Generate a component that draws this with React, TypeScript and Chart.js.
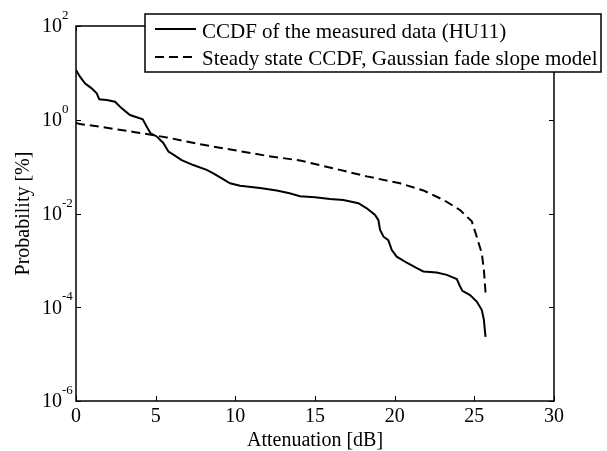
import React, { useEffect, useRef } from "react";
import { Chart, registerables } from "chart.js";

Chart.register(...registerables);

// Measured CCDF (HU11): attenuation [dB] and probability [%]
const attMeasured = [
  0, 0.25, 0.56, 0.98, 1.3, 1.46, 1.93, 2.45, 2.87, 3.39, 3.81, 4.19, 4.44, 4.69, 5.07, 5.48, 5.8, 6.11,
  6.63, 7.36, 8.2, 8.62, 9.15, 9.67, 10.3, 11.55, 12.6, 13.4, 14.06, 15.0, 15.94, 16.78, 17.72, 18.25,
  18.77, 18.98, 19.08, 19.3, 19.6, 19.82, 20.13, 20.76, 21.39, 21.8, 22.64, 23.27, 23.9, 24.07, 24.25,
  24.73, 25.15, 25.47, 25.6, 25.7,
];
const probMeasured = [
  11.5, 8.28, 6.0, 4.68, 3.66, 2.73, 2.63, 2.43, 1.75, 1.26, 1.13, 1.02, 0.71, 0.51, 0.44, 0.32, 0.21, 0.18,
  0.138, 0.108, 0.085, 0.072, 0.056, 0.044, 0.039, 0.035, 0.031, 0.027, 0.0234, 0.0221, 0.0204, 0.0195,
  0.0166, 0.0129, 0.0093, 0.0072, 0.0045, 0.0032, 0.0027, 0.00166, 0.0012, 0.00089, 0.00068, 0.00058,
  0.00055, 0.00049, 0.0004, 0.000295, 0.000224, 0.000182, 0.000132, 0.000087, 0.000054, 0.0000234,
];

// Steady state CCDF, Gaussian fade slope model
const attModel = [
  0, 0.25, 1.5, 3.6, 5.7, 7.78, 9.87, 11.97, 14.06, 16.15, 18.25, 20.34, 21.8, 23.06, 24.1, 24.84, 25.15,
  25.47, 25.6, 25.72,
];
const probModel = [
  0.85, 0.81, 0.71, 0.55, 0.42, 0.3, 0.226, 0.17, 0.135, 0.092, 0.062, 0.044, 0.031, 0.0195, 0.0119,
  0.0068, 0.0032, 0.0014, 0.00063, 0.00017,
];

const xTicks = [0, 5, 10, 15, 20, 25, 30];
const yTickExponents = [2, 0, -2, -4, -6];
const seriesLabels = [
  "CCDF of the measured data (HU11)",
  "Steady state CCDF, Gaussian fade slope model",
];
const xTitle = "Attenuation [dB]";
const yTitle = "Probability [%]";

const FONT = '"Liberation Serif", "Times New Roman", serif';
const DASH = [9, 5];

const decorPlugin = {
  id: "decor",
  beforeDraw(chart: any) {
    const { ctx, width, height } = chart;
    ctx.save();
    ctx.fillStyle = "#fff";
    ctx.fillRect(0, 0, width, height);
    ctx.restore();
  },
  afterDatasetsDraw(chart: any) {
    const { ctx, chartArea: a, scales } = chart;
    const x = scales.x;
    const y = scales.y;
    ctx.save();
    ctx.strokeStyle = "#000";
    ctx.fillStyle = "#000";
    ctx.lineWidth = 1.5;
    ctx.setLineDash([]);
    ctx.strokeRect(a.left, a.top, a.right - a.left, a.bottom - a.top);

    ctx.lineWidth = 1;
    ctx.beginPath();
    xTicks.forEach((v) => {
      const px = Math.round(x.getPixelForValue(v)) + 0.5;
      ctx.moveTo(px, a.bottom);
      ctx.lineTo(px, a.bottom - 5);
      ctx.moveTo(px, a.top);
      ctx.lineTo(px, a.top + 5);
    });
    yTickExponents.forEach((e) => {
      const py = Math.round(y.getPixelForValue(Math.pow(10, e))) + 0.5;
      ctx.moveTo(a.left, py);
      ctx.lineTo(a.left + 5, py);
      ctx.moveTo(a.right, py);
      ctx.lineTo(a.right - 5, py);
    });
    ctx.stroke();

    // x tick labels
    ctx.font = `20px ${FONT}`;
    ctx.textAlign = "center";
    ctx.textBaseline = "alphabetic";
    xTicks.forEach((v) => {
      ctx.fillText(String(v), x.getPixelForValue(v), a.bottom + 21);
    });

    // y tick labels with superscript exponents
    yTickExponents.forEach((e) => {
      const py = y.getPixelForValue(Math.pow(10, e));
      ctx.font = `20px ${FONT}`;
      ctx.textAlign = "right";
      ctx.textBaseline = "middle";
      ctx.fillText("10", a.left - 14, py + 1);
      ctx.font = `13px ${FONT}`;
      ctx.textAlign = "left";
      ctx.textBaseline = "alphabetic";
      ctx.fillText(String(e), a.left - 14, py - 7);
    });

    // axis titles
    ctx.font = `20px ${FONT}`;
    ctx.textAlign = "center";
    ctx.textBaseline = "alphabetic";
    ctx.fillText(xTitle, (a.left + a.right) / 2, a.bottom + 45);
    ctx.save();
    ctx.translate(24, (a.top + a.bottom) / 2);
    ctx.rotate(-Math.PI / 2);
    ctx.textBaseline = "middle";
    ctx.fillText(yTitle, 0, 0);
    ctx.restore();

    // legend
    const lx = 145, ly = 14, lw = 456, lh = 58;
    ctx.fillStyle = "#fff";
    ctx.fillRect(lx, ly, lw, lh);
    ctx.lineWidth = 1.5;
    ctx.strokeRect(lx, ly, lw, lh);
    const rows = [29, 57];
    const dashes = [[], DASH];
    ctx.lineWidth = 2;
    rows.forEach((ry, i) => {
      ctx.setLineDash(dashes[i]);
      ctx.beginPath();
      ctx.moveTo(155, ry);
      ctx.lineTo(196, ry);
      ctx.stroke();
    });
    ctx.setLineDash([]);
    ctx.fillStyle = "#000";
    ctx.font = `21px ${FONT}`;
    ctx.textAlign = "left";
    ctx.textBaseline = "alphabetic";
    ctx.fillText(seriesLabels[0], 202, 38);
    ctx.fillText(seriesLabels[1], 202, 65);
    ctx.restore();
  },
};

export default function App() {
  const canvasRef = useRef<HTMLCanvasElement | null>(null);

  useEffect(() => {
    if (!canvasRef.current) return;
    const chart = new Chart(canvasRef.current, {
      type: "line",
      data: {
        datasets: [
          {
            label: seriesLabels[0],
            data: attMeasured.map((v, i) => ({ x: v, y: probMeasured[i] })),
            borderColor: "#000",
            borderWidth: 2,
            pointRadius: 0,
            tension: 0,
            fill: false,
          },
          {
            label: seriesLabels[1],
            data: attModel.map((v, i) => ({ x: v, y: probModel[i] })),
            borderColor: "#000",
            borderWidth: 2,
            borderDash: DASH,
            pointRadius: 0,
            tension: 0,
            fill: false,
          },
        ],
      },
      options: {
        animation: false,
        responsive: false,
        devicePixelRatio: 1,
        layout: { padding: { left: 76, top: 26, right: 53, bottom: 50 } },
        plugins: { legend: { display: false }, tooltip: { enabled: false } },
        scales: {
          x: { type: "linear", min: 0, max: 30, display: false },
          y: { type: "logarithmic", min: 1e-6, max: 1e2, display: false },
        },
      },
      plugins: [decorPlugin],
    });
    return () => chart.destroy();
  }, []);

  return (
    <div style={{ position: "fixed", left: 0, top: 0, width: 607, height: 451, background: "#fff" }}>
      <canvas ref={canvasRef} width={607} height={451} style={{ display: "block" }} />
    </div>
  );
}
